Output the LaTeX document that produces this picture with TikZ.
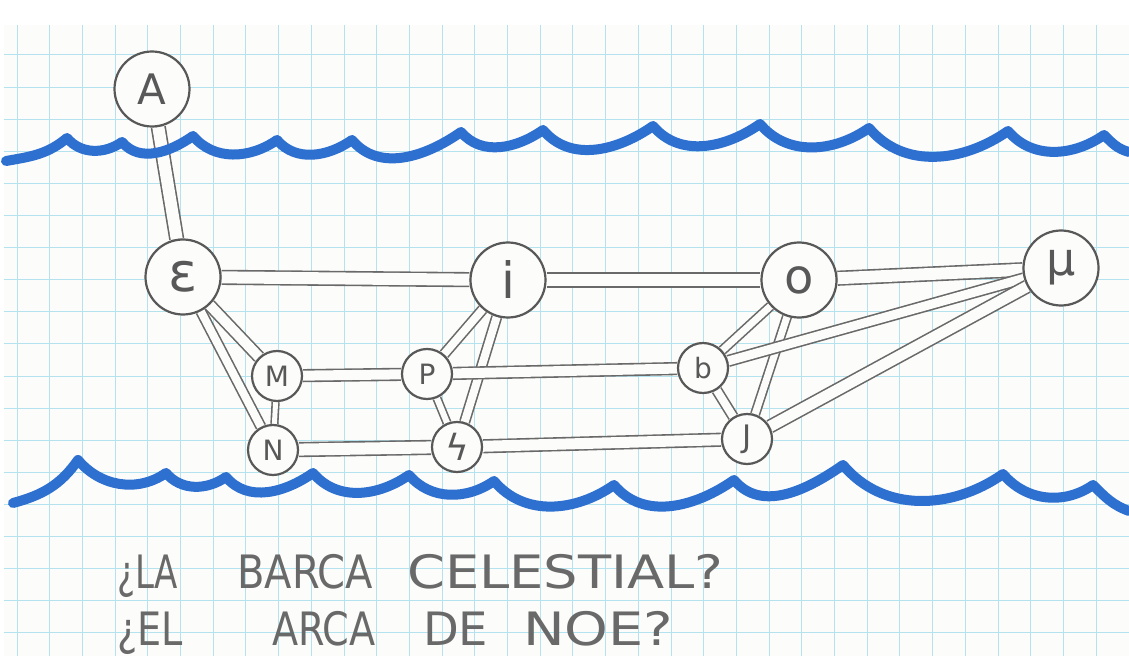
\documentclass[tikz,border=0pt]{standalone}
\usepackage{fontspec}
\setmainfont{DejaVu Sans}
\usepackage{tikz}
\usetikzlibrary{backgrounds}

\definecolor{paper}{RGB}{252,252,250}
\definecolor{gridline}{RGB}{180,226,238}
\definecolor{pencil}{RGB}{88,88,88}
\definecolor{lead}{RGB}{105,105,105}
\definecolor{marker}{RGB}{45,112,208}

\tikzset{ star/.style = {circle, draw=pencil, line width=2.2pt, fill=paper, inner sep=0pt, text=pencil} }
\tikzset{ bigstar/.style = {star, minimum size=75pt, font=\fontsize{42}{42}\selectfont} }
\tikzset{ smallstar/.style = {star, minimum size=50pt, font=\fontsize{28}{28}\selectfont} }
\tikzset{ rail/.style = {draw=lead, line width=1.6pt, double=paper, double distance=#1}, rail/.default=9pt }
\tikzset{ wave/.style = {draw=marker, line width=10pt, line join=round, line cap=round} }
\tikzset{ scallop/.style = {out=-50, in=-145} }
\tikzset{ words/.style = {anchor=base west, inner sep=0pt, text=lead, font=\fontsize{46}{46}\selectfont} }
\newcommand{\hand}[2]{\scalebox{#1}[1]{#2}}

\begin{document}
\begin{tikzpicture}[x=1pt, y=1pt]
            \useasboundingbox (0,0) rectangle (1129,-668);
            \begin{pgfonlayer}{background}
            \fill[white] (0,0) rectangle (1129,-668);
            \fill[paper] (4,-25) rectangle (1129,-656);
            \foreach \x in {0,...,33}
                \draw[gridline, line width=1pt] ({17+32.7*\x},-25) -- ({17+32.7*\x},-656);
            \foreach \y in {0,...,18}
                \draw[gridline, line width=1pt] (4,{-55-32.1*\y}) -- (1129,{-55-32.1*\y});
            \end{pgfonlayer}

            \node [bigstar] (A) at (152,-89) {A};
            \node [bigstar, font=\fontsize{54}{54}\selectfont] (E) at (183,-277) {ε};
            \node [bigstar, font=\fontsize{50}{50}\selectfont] (I) at (508,-280) {i};
            \node [bigstar, font=\fontsize{48}{48}\selectfont] (O) at (799,-280) {o};
            \node [bigstar, font=\fontsize{46}{46}\selectfont] (Mu) at (1061,-268) {μ};
            \node [smallstar] (M) at (277,-376) {M};
            \node [smallstar] (P) at (427,-374) {P};
            \node [smallstar] (B) at (703,-368) {b};
            \node [smallstar] (N) at (273,-450) {N};
            \node [smallstar, font=\fontsize{36}{36}\selectfont] (S) at (457,-447) {ϟ};
            \node [smallstar, font=\fontsize{31}{31}\selectfont] (J) at (747,-439) {J};

            \begin{pgfonlayer}{background}
            \draw[rail=12pt] (A) to (E);
            \draw[rail=12pt] (E) to (I);
            \draw[rail=12pt] (I) to (O);
            \draw[rail=12pt] (O) to (Mu);
            \draw[rail=10pt] (E) to (M);
            \draw[rail=8pt] (E) to (N);
            \draw[rail=5pt] (M) to (N);
            \draw[rail=10pt] (M) to (P);
            \draw[rail=12pt] (N) to (S);
            \draw[rail=8pt] (P) to (I);
            \draw[rail=8pt] (S) to (I);
            \draw[rail=6pt] (P) to (S);
            \draw[rail=10pt] (P) to (B);
            \draw[rail=11pt] (S) to (J);
            \draw[rail=7pt] (B) to (O);
            \draw[rail=7pt] (J) to (O);
            \draw[rail=8pt] (B) to (J);
            \draw[rail=9pt] (B) to (Mu);
            \draw[rail=11pt] (J) to (Mu);
            % sea above and below
            \draw[wave] (6,-161) to[out=10, in=-140] (67,-138) to[scallop] (122,-142)
                to[scallop] (193,-136) to[scallop] (277,-140) to[scallop] (352,-140)
                to[scallop] (461,-132) to[scallop] (543,-130) to[scallop] (653,-126)
                to[scallop] (760,-124) to[scallop] (869,-128) to[scallop] (1008,-131)
                to[scallop] (1104,-135) to[out=-45, in=165] (1129,-152);
            \draw[wave] (13,-503) to[out=15, in=-125] (78,-460) to[scallop] (166,-473)
                to[scallop] (226,-477) to[scallop] (313,-473) to[scallop] (409,-475)
                to[scallop] (494,-481) to[scallop] (614,-485) to[scallop] (734,-480)
                to[scallop] (843,-465) to[scallop] (1003,-474) to[scallop] (1093,-485)
                to[out=-45, in=160] (1129,-511);
            \end{pgfonlayer}

            \node [words] (w1) at (117,-588) {\hand{0.74}{¿LA}};
            \node [words] (w2) at (237,-588) {\hand{0.87}{BARCA}};
            \node [words] (w3) at (407,-588) {\hand{1.18}{CELESTIAL?}};
            \node [words] (w4) at (117,-645) {\hand{0.83}{¿EL}};
            \node [words] (w5) at (272,-645) {\hand{0.83}{ARCA}};
            \node [words] (w6) at (423,-645) {\hand{1.01}{DE}};
            \node [words] (w7) at (523,-645) {\hand{1.21}{NOE?}};
        \end{tikzpicture}
\end{document}
